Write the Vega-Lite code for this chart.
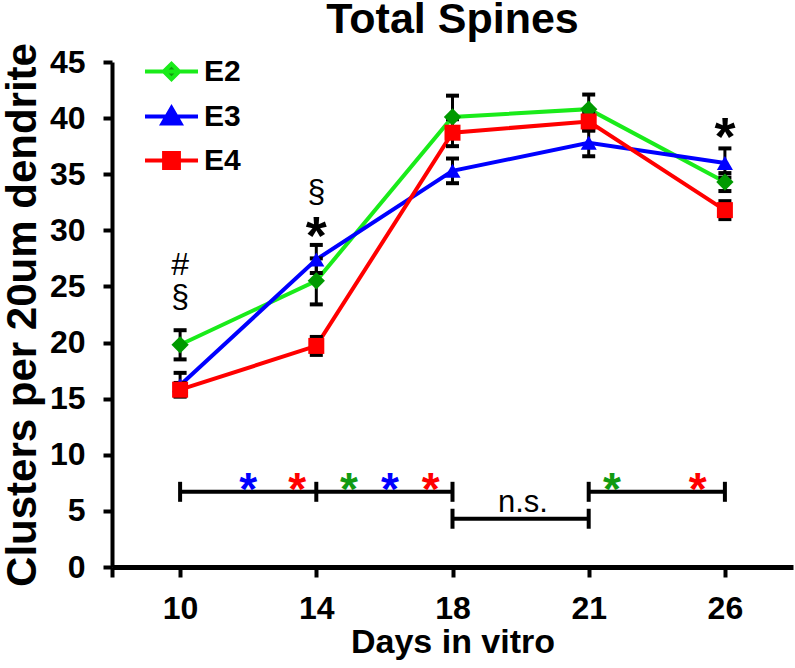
{
  "$schema": "https://vega.github.io/schema/vega-lite/v6.json",
  "autosize": {"type": "none"},
  "width": 681,
  "height": 505,
  "padding": {"left": 112, "top": 62, "right": 2, "bottom": 101},
  "background": "white",
  "config": {
    "view": {"stroke": null},
    "font": "Liberation Sans",
    "axis": {"grid": false, "domainColor": "black", "tickColor": "black", "labelColor": "black", "titleColor": "black", "labelFont": "Liberation Sans", "titleFont": "Liberation Sans"}
  },
  "title": {"text": "Total Spines", "fontSize": 43, "fontWeight": "bold", "font": "Liberation Sans", "anchor": "middle", "offset": 1, "color": "black"},
  "datasets": {
    "means": [
      {"series": "E2", "day": 10, "mean": 19.8, "lo": 18.5, "hi": 21.1},
      {"series": "E2", "day": 14, "mean": 25.5, "lo": 23.4, "hi": 27.5},
      {"series": "E2", "day": 18, "mean": 40.1, "lo": 38.3, "hi": 42.0},
      {"series": "E2", "day": 21, "mean": 40.8, "lo": 39.5, "hi": 42.1},
      {"series": "E2", "day": 26, "mean": 34.3, "lo": 33.5, "hi": 35.1},
      {"series": "E3", "day": 10, "mean": 16.2, "lo": 15.2, "hi": 17.3},
      {"series": "E3", "day": 14, "mean": 27.4, "lo": 26.2, "hi": 28.7},
      {"series": "E3", "day": 18, "mean": 35.3, "lo": 34.2, "hi": 36.4},
      {"series": "E3", "day": 21, "mean": 37.8, "lo": 36.6, "hi": 38.9},
      {"series": "E3", "day": 26, "mean": 36.0, "lo": 34.7, "hi": 37.3},
      {"series": "E4", "day": 10, "mean": 15.8, "lo": 15.2, "hi": 16.4},
      {"series": "E4", "day": 14, "mean": 19.7, "lo": 18.9, "hi": 20.5},
      {"series": "E4", "day": 18, "mean": 38.7, "lo": 37.5, "hi": 39.9},
      {"series": "E4", "day": 21, "mean": 39.7, "lo": 38.9, "hi": 40.5},
      {"series": "E4", "day": 26, "mean": 31.8, "lo": 31.0, "hi": 32.6}
    ],
    "brackets": [
      {"day": 10, "day2": 14, "level": 6.7},
      {"day": 14, "day2": 18, "level": 6.7},
      {"day": 18, "day2": 21, "level": 4.3},
      {"day": 21, "day2": 26, "level": 6.7}
    ],
    "bracketEnds": [
      {"day": 10, "level": 6.7},
      {"day": 14, "level": 6.7},
      {"day": 18, "level": 6.7},
      {"day": 18, "level": 4.3},
      {"day": 21, "level": 4.3},
      {"day": 21, "level": 6.7},
      {"day": 26, "level": 6.7}
    ],
    "nsLabel": [{"day": 19.55, "level": 5.7, "label": "n.s."}],
    "sigStars": [
      {"day": 12.0, "level": 7.6, "series": "E3"},
      {"day": 13.44, "level": 7.6, "series": "E4"},
      {"day": 14.96, "level": 7.6, "series": "E2"},
      {"day": 16.16, "level": 7.6, "series": "E3"},
      {"day": 17.36, "level": 7.6, "series": "E4"},
      {"day": 21.85, "level": 7.6, "series": "E2"},
      {"day": 25.0, "level": 7.6, "series": "E4"}
    ],
    "notes": [
      {"day": 10, "level": 26.9, "label": "#"},
      {"day": 10, "level": 24.1, "label": "§"},
      {"day": 14, "level": 33.4, "label": "§"},
      {"day": 14, "level": 30.1, "label": "*"},
      {"day": 26, "level": 38.9, "label": "*"}
    ]
  },
  "layer": [
    {
      "data": {"name": "means"},
      "mark": {"type": "line", "strokeWidth": 4},
      "encoding": {
        "x": {
          "field": "day", "type": "quantitative",
          "scale": {
            "type": "linear", "nice": false, "zero": false,
            "domain": [7.5, 10, 14, 18, 21, 26, 28.5],
            "range": [0, {"expr": "width*0.1"}, {"expr": "width*0.3"}, {"expr": "width*0.5"}, {"expr": "width*0.7"}, {"expr": "width*0.9"}, {"expr": "width"}]
          },
          "axis": {
            "title": "Days in vitro", "values": [7.5, 10, 14, 18, 21, 26],
            "labelExpr": "datum.value == 7.5 ? '' : datum.label",
            "labelFontSize": 32, "labelFontWeight": "bold", "labelPadding": 16,
            "titleFontSize": 34, "titleFontWeight": "bold", "titlePadding": 1,
            "domainWidth": 5, "tickWidth": 4, "tickSize": 10, "labelFlush": false, "labelOverlap": false
          }
        },
        "y": {
          "field": "mean", "type": "quantitative",
          "scale": {"domain": [0, 45], "nice": false},
          "axis": {
            "title": "Clusters per 20um dendrite", "values": [0, 5, 10, 15, 20, 25, 30, 35, 40, 45],
            "labelFontSize": 32, "labelFontWeight": "bold", "labelPadding": 18,
            "titleFontSize": 42, "titleFontWeight": "bold", "titlePadding": 5,
            "domainWidth": 4, "tickWidth": 4, "tickSize": 9, "labelOverlap": false
          }
        },
        "color": {
          "field": "series", "type": "nominal",
          "scale": {"domain": ["E2", "E3", "E4"], "range": ["#1aeb1a", "#0000ff", "#ff0000"]},
          "legend": {
            "orient": "none", "legendX": 31, "legendY": -19, "title": null, "padding": 0,
            "labelFontSize": 30, "labelFontWeight": "bold", "labelFont": "Liberation Sans", "labelColor": "black",
            "symbolSize": 2809, "symbolStrokeWidth": 4, "labelOffset": 4, "rowPadding": -4,
            "encode": {
              "symbols": {
                "update": {
                  "shape": {"signal": "datum.value === 'E2' ? 'M-1,0H1M-0.29,0L0,-0.29L0.29,0L0,0.29Z' : datum.value === 'E3' ? 'M-1,0H1M-0.34,0.26L0,-0.32L0.34,0.26Z' : 'M-1,0H1M-0.28,-0.28H0.28V0.28H-0.28Z'"},
                  "fill": {"signal": "datum.value === 'E2' ? '#009a00' : datum.value === 'E3' ? '#0000ff' : '#ff0000'"}
                }
              }
            }
          }
        }
      }
    },
    {
      "data": {"name": "means"},
      "mark": {"type": "rule", "color": "black", "strokeWidth": 3},
      "encoding": {
        "x": {"field": "day", "type": "quantitative"},
        "y": {"field": "lo", "type": "quantitative"},
        "y2": {"field": "hi"}
      }
    },
    {
      "data": {"name": "means"},
      "mark": {"type": "tick", "orient": "horizontal", "color": "black", "size": 13, "thickness": 4, "opacity": 1},
      "encoding": {
        "x": {"field": "day", "type": "quantitative"},
        "y": {"field": "lo", "type": "quantitative"}
      }
    },
    {
      "data": {"name": "means"},
      "mark": {"type": "tick", "orient": "horizontal", "color": "black", "size": 13, "thickness": 4, "opacity": 1},
      "encoding": {
        "x": {"field": "day", "type": "quantitative"},
        "y": {"field": "hi", "type": "quantitative"}
      }
    },
    {
      "data": {"name": "means"},
      "transform": [{"filter": "datum.series == 'E2'"}],
      "mark": {"type": "point", "shape": "diamond", "filled": true, "size": 300, "opacity": 1, "strokeWidth": 0, "color": "#009a00"},
      "encoding": {
        "x": {"field": "day", "type": "quantitative"},
        "y": {"field": "mean", "type": "quantitative"}
      }
    },
    {
      "data": {"name": "means"},
      "transform": [{"filter": "datum.series == 'E3'"}],
      "mark": {"type": "point", "shape": "triangle-up", "filled": true, "size": 260, "opacity": 1, "strokeWidth": 0, "color": "#0000ff"},
      "encoding": {
        "x": {"field": "day", "type": "quantitative"},
        "y": {"field": "mean", "type": "quantitative"}
      }
    },
    {
      "data": {"name": "means"},
      "transform": [{"filter": "datum.series == 'E4'"}],
      "mark": {"type": "point", "shape": "square", "filled": true, "size": 256, "opacity": 1, "strokeWidth": 0, "color": "#ff0000"},
      "encoding": {
        "x": {"field": "day", "type": "quantitative"},
        "y": {"field": "mean", "type": "quantitative"}
      }
    },
    {
      "data": {"name": "brackets"},
      "mark": {"type": "rule", "color": "black", "strokeWidth": 4},
      "encoding": {
        "x": {"field": "day", "type": "quantitative"},
        "x2": {"field": "day2"},
        "y": {"field": "level", "type": "quantitative"}
      }
    },
    {
      "data": {"name": "bracketEnds"},
      "mark": {"type": "tick", "orient": "vertical", "color": "black", "size": 20, "thickness": 4, "opacity": 1},
      "encoding": {
        "x": {"field": "day", "type": "quantitative"},
        "y": {"field": "level", "type": "quantitative"}
      }
    },
    {
      "data": {"name": "nsLabel"},
      "mark": {"type": "text", "fontSize": 31, "color": "black", "baseline": "middle", "align": "center"},
      "encoding": {
        "x": {"field": "day", "type": "quantitative"},
        "y": {"field": "level", "type": "quantitative"},
        "text": {"field": "label"}
      }
    },
    {
      "data": {"name": "sigStars"},
      "mark": {"type": "text", "text": "*", "fontSize": 46, "fontWeight": "bold", "baseline": "middle", "align": "center", "dy": 9},
      "encoding": {
        "x": {"field": "day", "type": "quantitative"},
        "y": {"field": "level", "type": "quantitative"},
        "fill": {"field": "series", "type": "nominal", "scale": {"domain": ["E2", "E3", "E4"], "range": ["#119a11", "#0000ff", "#ff0000"]}, "legend": null}
      }
    },
    {
      "data": {"name": "notes"},
      "transform": [{"filter": "datum.label != '*'"}],
      "mark": {"type": "text", "fontSize": 32, "color": "black", "baseline": "middle", "align": "center"},
      "encoding": {
        "x": {"field": "day", "type": "quantitative"},
        "y": {"field": "level", "type": "quantitative"},
        "text": {"field": "label"}
      }
    },
    {
      "data": {"name": "notes"},
      "transform": [{"filter": "datum.label == '*'"}],
      "mark": {"type": "text", "fontSize": 54, "fontWeight": "bold", "color": "black", "baseline": "middle", "align": "center", "dy": 9},
      "encoding": {
        "x": {"field": "day", "type": "quantitative"},
        "y": {"field": "level", "type": "quantitative"},
        "text": {"field": "label"}
      }
    }
  ]
}
